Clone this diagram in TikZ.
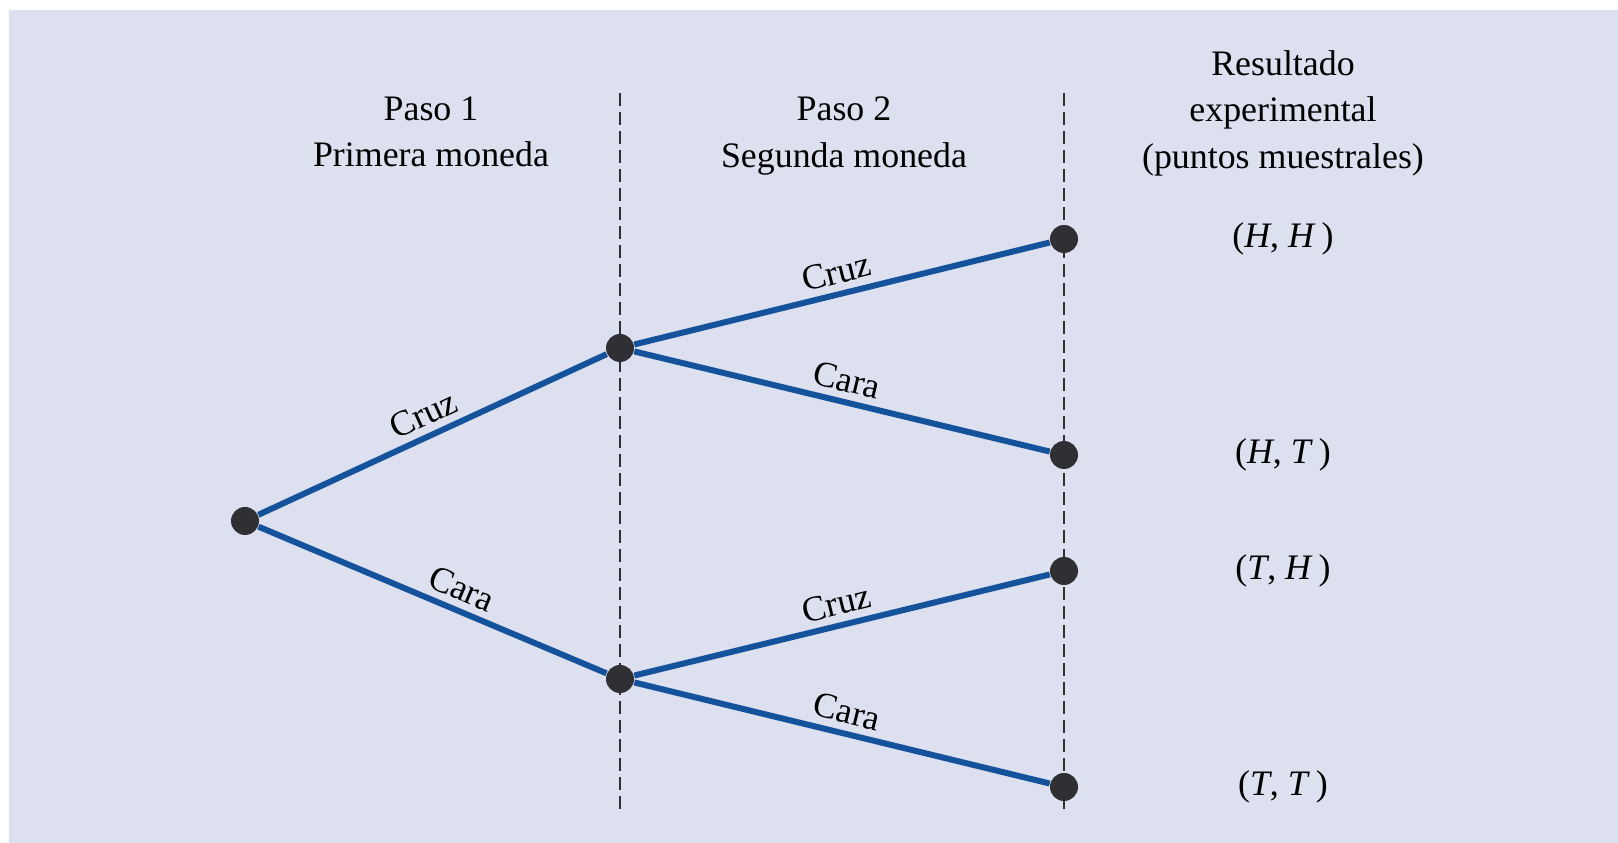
\documentclass[tikz,border=0pt]{standalone}
\usepackage{fontspec}
\setmainfont{Liberation Serif}
\usetikzlibrary{calc}

\definecolor{fondo}{RGB}{221,224,239}
\definecolor{rama}{RGB}{20,82,156}
\definecolor{punto}{RGB}{48,48,52}

\begin{document}
\begin{tikzpicture}[font=\fontsize{10.2}{13.2}\selectfont,
    dot/.style={circle, fill=punto, minimum size=0.28cm, inner sep=0pt},
    branch/.style={draw=rama, line width=0.06cm},
    lbl/.style={above, sloped, inner sep=2pt},
    sep/.style={draw=punto, line width=0.02cm, dash pattern=on 0.13cm off 0.06cm}]
        \useasboundingbox (0,0) rectangle (16.18,8.43);
        \fill [fondo] (0.09,0) rectangle (16.18,8.33);

        % column dividers
        \coordinate (s1a) at (6.2,7.50);
        \coordinate (s1b) at (6.2,0.33);
        \coordinate (s2a) at (10.64,7.50);
        \coordinate (s2b) at (10.64,0.33);
        \draw [sep] (s1a) -- (s1b);
        \draw [sep] (s2a) -- (s2b);

        % headings
        \node [align=center] (p1) at (4.31,7.11) {Paso 1\\Primera moneda};
        \node [align=center] (p2) at (8.44,7.07) {Paso 2\\Segunda moneda};
        \node [align=center] (res) at (12.83,7.30) {Resultado\\experimental\\(puntos muestrales)};

        % tree
        \node [dot] (r) at (2.45,3.22) {};
        \node [dot] (h) at (6.2,4.95) {};
        \node [dot] (t) at (6.2,1.64) {};
        \node [dot] (hh) at (10.64,6.04) {};
        \node [dot] (ht) at (10.64,3.88) {};
        \node [dot] (th) at (10.64,2.72) {};
        \node [dot] (tt) at (10.64,0.56) {};
        \draw [branch] (r) -- node [lbl, pos=0.5] {Cruz} (h);
        \draw [branch] (r) -- node [lbl, pos=0.56] {Cara} (t);
        \draw [branch] (h) -- node [lbl, pos=0.5] {Cruz} (hh);
        \draw [branch] (h) -- node [lbl, pos=0.5] {Cara} (ht);
        \draw [branch] (t) -- node [lbl, pos=0.5] {Cruz} (th);
        \draw [branch] (t) -- node [lbl, pos=0.5] {Cara} (tt);

        % outcomes
        \node (ohh) at (12.83,6.04) {(\textit{H}, \textit{H}\,)};
        \node (oht) at (12.83,3.88) {(\textit{H}, \textit{T}\,)};
        \node (oth) at (12.83,2.72) {(\textit{T}, \textit{H}\,)};
        \node (ott) at (12.83,0.56) {(\textit{T}, \textit{T}\,)};
    \end{tikzpicture}
\end{document}
